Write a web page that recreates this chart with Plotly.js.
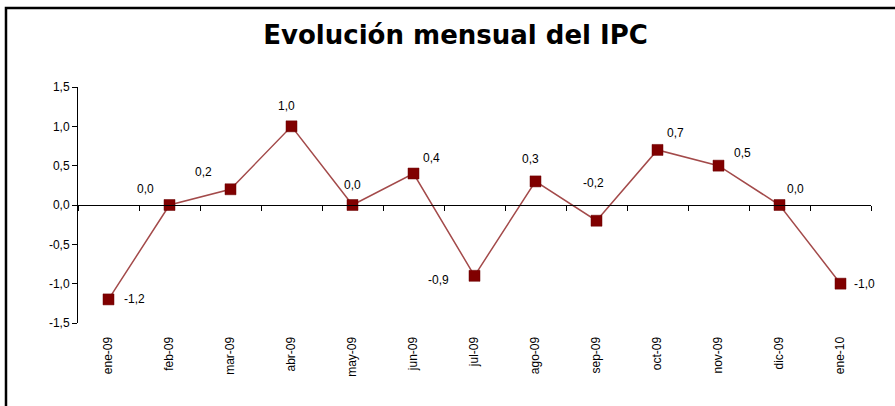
<!DOCTYPE html>
<html>
<head>
<meta charset="utf-8">
<script src="https://cdn.plot.ly/plotly-3.0.1.min.js"></script>
<style>html,body{margin:0;padding:0;background:#fff;}#chart{width:895px;height:406px;}</style>
</head>
<body>
<div id="chart"></div>
<script>
const categories = ["ene-09","feb-09","mar-09","abr-09","may-09","jun-09","jul-09","ago-09","sep-09","oct-09","nov-09","dic-09","ene-10"];
const values = [-1.2, 0.0, 0.2, 1.0, 0.0, 0.4, -0.9, 0.3, -0.2, 0.7, 0.5, 0.0, -1.0];
const yTicks = [-1.5, -1.0, -0.5, 0.0, 0.5, 1.0, 1.5];
// label offsets (style only): pixels from marker centre
const labelDx = [26, -24, -27, -5, 0, 18, -36, -5, -3, 18, 24, 16, 24];
const labelDy = [0, 16, 17, 20, 20, 16, -4, 22, 38, 17, 13, 16, 0];

const fmt = v => v.toFixed(1).replace('.', ',');
const LF = 'Liberation Sans, Arial, sans-serif';

const traces = [
  { // invisible trace to hold the zero-line axis
    x: categories, y: values, xaxis: 'x', yaxis: 'y',
    type: 'scatter', mode: 'markers', marker: {opacity: 0}, hoverinfo: 'skip', showlegend: false
  },
  {
    x: categories, y: values, xaxis: 'x2', yaxis: 'y',
    type: 'scatter', mode: 'lines+markers',
    line: {color: '#a34a4a', width: 1.5},
    marker: {symbol: 'square', size: 11, color: '#800000', line: {color: '#6a0000', width: 0.5}},
    showlegend: false
  }
];

const annotations = categories.map((c, i) => ({
  x: c, y: values[i], xref: 'x2', yref: 'y',
  text: fmt(values[i]), showarrow: false,
  xshift: labelDx[i], yshift: labelDy[i],
  font: {family: LF, size: 12, color: '#000'}
}));

const layout = {
  width: 895, height: 406,
  margin: {l: 78, r: 24, t: 87, b: 83},
  paper_bgcolor: '#fff', plot_bgcolor: '#fff',
  separators: ',.',
  showlegend: false,
  title: {
    text: 'Evolución mensual del IPC',
    font: {family: 'DejaVu Sans, Verdana, sans-serif', size: 26, color: '#000', weight: 'bold'},
    x: 0.509, xanchor: 'center', y: 0.914, yanchor: 'middle', xref: 'container', yref: 'container'
  },
  xaxis: {
    type: 'category', categoryorder: 'array', categoryarray: categories,
    range: [-0.5, 12.5], anchor: 'free', position: 0.5,
    showline: true, linecolor: '#000', linewidth: 1,
    ticks: 'outside', tickson: 'boundaries', ticklen: 5, tickcolor: '#000', tickwidth: 1,
    showticklabels: false, showgrid: false, zeroline: false, fixedrange: true
  },
  xaxis2: {
    type: 'category', categoryorder: 'array', categoryarray: categories,
    range: [-0.5, 12.5], overlaying: 'x', anchor: 'y', side: 'bottom',
    showline: false, ticks: 'outside', ticklen: 8, tickcolor: 'rgba(0,0,0,0)',
    tickangle: -90, showgrid: false, zeroline: false,
    tickfont: {family: LF, size: 12, color: '#000'}
  },
  yaxis: {
    range: [-1.5, 1.5], tickvals: yTicks, ticktext: yTicks.map(fmt),
    showline: true, linecolor: '#000', linewidth: 1,
    ticks: 'outside', ticklen: 5, tickcolor: '#000',
    showgrid: false, zeroline: false,
    tickfont: {family: LF, size: 12, color: '#000'}
  },
  annotations: annotations,
  shapes: [{
    type: 'rect', xref: 'paper', yref: 'paper',
    x0: -0.0908, x1: 1.2, y0: -0.6, y1: 1.335,
    line: {color: '#000', width: 2.5}, fillcolor: 'rgba(0,0,0,0)', layer: 'below'
  }]
};

Plotly.newPlot('chart', traces, layout, {displayModeBar: false, staticPlot: true});
</script>
</body>
</html>
